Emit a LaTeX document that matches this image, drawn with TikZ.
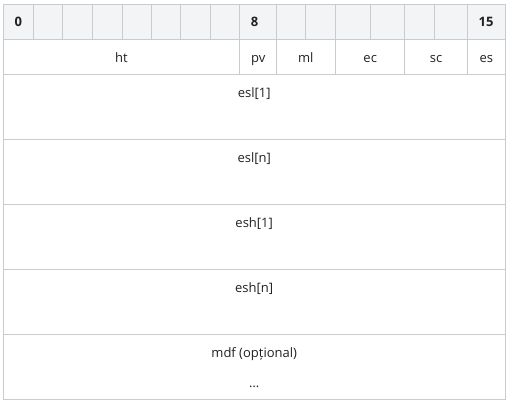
\documentclass[tikz,border=0pt]{standalone}
\usepackage{fontspec}
\setmainfont{Open Sans}
\definecolor{lineC}{HTML}{C8CCD1}
\definecolor{headC}{HTML}{F3F4F6}
\definecolor{textC}{HTML}{202122}
\newcommand{\cL}{lineC}
\newcommand{\cH}{headC}
\newcommand{\tx}{textC}
\tikzset{
    cell/.style={inner sep=0pt, anchor=base, text=\tx, font=\fontsize{13}{15}\selectfont},
    headnum/.style={cell, font=\fontsize{13}{15}\selectfont\bfseries}
}

\begin{document}
\begin{tikzpicture}[x=1pt, y=-1pt]
    \useasboundingbox (0,0) rectangle (510,403);
    % --- --- --- Header background
    \fill[\cH] (3.3,4.3) rectangle (505,39.3);
    % --- --- --- Header bit numbers
    \node[headnum] (h0) at (18.3,26.7) {0};
    \node[headnum] (h8) at (254.5,26.7) {8};
    \node[headnum] (h15) at (486,26.7) {15};
    % --- --- --- Field row
    \node[cell] (ht) at (121.5,62.5) {ht};
    \node[cell] (pv) at (258.2,62.5) {pv};
    \node[cell] (ml) at (305.7,62.5) {ml};
    \node[cell] (ec) at (370.2,62.5) {ec};
    \node[cell] (sc) at (436,62.5) {sc};
    \node[cell] (es) at (486.4,62.5) {es};
    % --- --- --- Wide rows
    \node[cell] (esl1) at (254.2,97.3) {esl[1]};
    \node[cell] (esln) at (254.2,162.3) {esl[n]};
    \node[cell] (esh1) at (254.2,227.8) {esh[1]};
    \node[cell] (eshn) at (254.2,292.8) {esh[n]};
    \node[cell] (mdf) at (254.2,357.5) {mdf (opțional)};
    \node[cell] (dots) at (254.2,387.5) {…};
    % === === === Outer frame
    \draw[\cL, line width=1pt] (3.3,4.3) rectangle (505,399);
    % === === === Header cells
    \foreach \xc in {33.3,62.7,92.3,122,151.7,180.7,210.3,239.7,276.7,305.7,335.7,370.7,404.7,434.3,467.7}
        \draw[\cL, line width=1pt] (\xc,4.3) -- (\xc,39.3);
    % === === === Field cells
    \foreach \xc in {239.7,276.7,335.7,404.7,467.7}
        \draw[\cL, line width=1pt] (\xc,39.3) -- (\xc,74.3);
    % === === === Row lines
    \foreach \yc in {39.3,74.3,139.3,204.3,269.3,334.3}
        \draw[\cL, line width=1pt] (3.3,\yc) -- (505,\yc);
\end{tikzpicture}
\end{document}
